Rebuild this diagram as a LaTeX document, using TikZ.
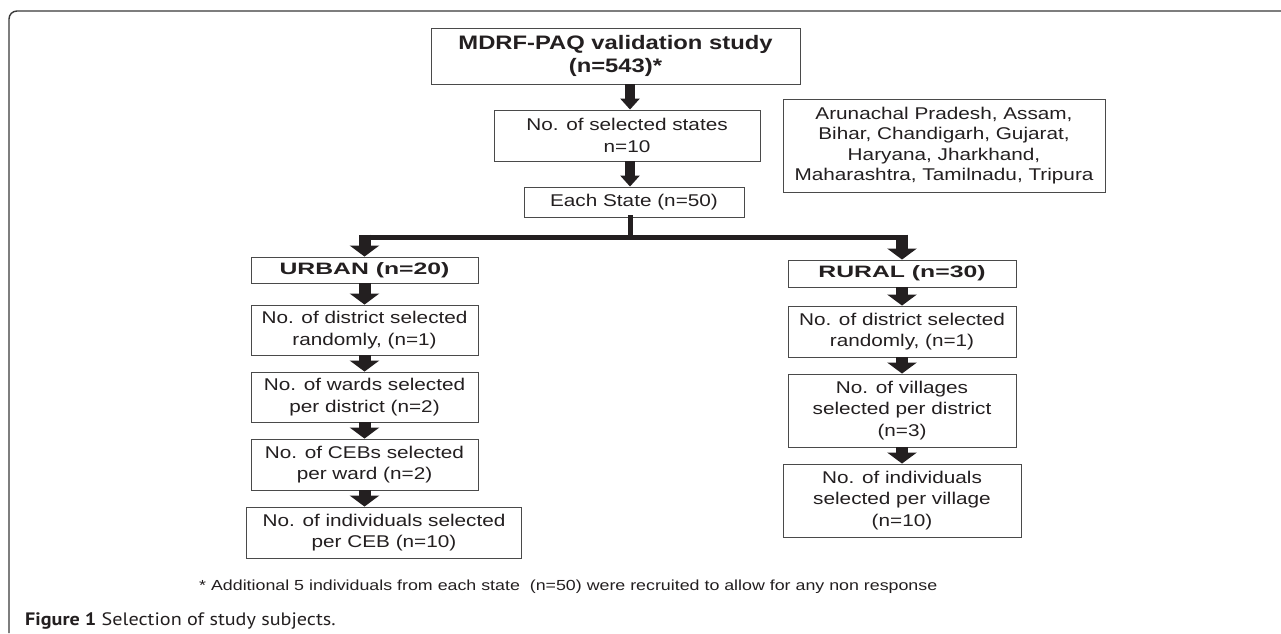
\documentclass[tikz,border=0pt]{standalone}
\usepackage{fontspec}
\setmainfont{Liberation Sans}[FakeStretch=1.22]
\newfontfamily\headfont{Liberation Sans}[FakeStretch=1.5]
\newfontfamily\capfont{PT Sans}[FakeStretch=1.12]
\usetikzlibrary{arrows.meta}
\definecolor{ink}{HTML}{231F20}
\definecolor{boxline}{HTML}{4A4A4A}
\definecolor{framecol}{HTML}{3A3A3A}
\tikzset{
  box/.style={draw=boxline, line width=0.9pt, text=ink, align=center, inner sep=0pt,
    font=\fontsize{17}{21.5}\selectfont},
  titlebox/.style={box, font=\bfseries\fontsize{19.5}{22.7}\selectfont},
  headbox/.style={box, font=\headfont\bfseries\fontsize{16.5}{20}\selectfont},
  toparrow/.style={draw=ink, line width=10pt, -{Triangle[width=19pt,length=11pt]}},
  colarrow/.style={draw=ink, line width=12pt, -{Triangle[width=29pt,length=11pt]}},
  conn/.style={draw=ink, line width=5pt, line cap=rect},
}
\begin{document}
\begin{tikzpicture}[x=1pt,y=-1pt]
\useasboundingbox (0,0) rectangle (1281,633);
\fill[white] (0,0) rectangle (1281,633);
% frame
\draw[framecol, line width=1.4pt, rounded corners=8pt] (9,633) -- (9,11) -- (1281,11);

% top chain
\node[titlebox, minimum width=369pt, minimum height=56pt] (top) at (615.5,56)
  {MDRF-PAQ validation study\\(n=543)*};
\node[box, minimum width=266pt, minimum height=51pt] (sel) at (627,135.5)
  {No. of selected states\\n=10};
\node[box, minimum width=220pt, minimum height=30pt] (each) at (634,202)
  {Each State (n=50)};
\node[box, minimum width=322pt, minimum height=93pt, font=\fontsize{17}{20.5}\selectfont] (states) at (944,145.5)
  {Arunachal Pradesh, Assam,\\Bihar, Chandigarh, Gujarat,\\Haryana, Jharkhand,\\Maharashtra, Tamilnadu, Tripura};

\draw[toparrow] (top.south -| sel.north) ++(3,0) coordinate (a1) -- (a1 |- sel.north);
\draw[toparrow] (sel.south) ++(3,0) coordinate (a2) -- (a2 |- each.north);

% urban column
\node[headbox, minimum width=227pt, minimum height=26pt] (urban) at (364.5,270) {URBAN (n=20)};
\node[box, minimum width=227pt, minimum height=50pt] (udist) at (364.5,330)
  {No. of district selected\\randomly, (n=1)};
\node[box, minimum width=227pt, minimum height=50pt] (uward) at (364.5,397)
  {No. of wards selected\\per district (n=2)};
\node[box, minimum width=227pt, minimum height=51pt] (uceb) at (364.5,464.5)
  {No. of CEBs selected\\per ward (n=2)};
\node[box, minimum width=275pt, minimum height=51pt] (uind) at (384,532.5)
  {No. of individuals selected\\per CEB (n=10)};

% rural column
\node[headbox, minimum width=228pt, minimum height=27pt] (rural) at (902,273.5) {RURAL (n=30)};
\node[box, minimum width=228pt, minimum height=51pt] (rdist) at (902,331.5)
  {No. of district selected\\randomly, (n=1)};
\node[box, minimum width=228pt, minimum height=73pt] (rvill) at (902,410.5)
  {No. of villages\\selected per district\\(n=3)};
\node[box, minimum width=238pt, minimum height=73pt] (rind) at (902,500.5)
  {No. of individuals\\selected per village\\(n=10)};

% branching connector
\coordinate (j) at (630,237);
\draw[conn] (each.south -| j) -- (j);
\draw[conn] (urban.north |- j) -- (rural.north |- j);
\draw[colarrow] ([yshift=2.5pt]urban.north |- j) -- (urban.north);
\draw[colarrow] ([yshift=2.5pt]rural.north |- j) -- (rural.north);

% column arrows
\draw[colarrow] (urban.south) -- (udist.north);
\draw[colarrow] (udist.south) -- (uward.north);
\draw[colarrow] (uward.south) -- (uceb.north);
\draw[colarrow] (uceb.south) -- (uceb.south |- uind.north);
\draw[colarrow] (rural.south) -- (rdist.north);
\draw[colarrow] (rdist.south) -- (rvill.north);
\draw[colarrow] (rvill.south) -- (rind.north);

% footnote and caption
\node[text=ink, font=\fontsize{14.6}{17}\selectfont, inner sep=0pt, anchor=base west] (note) at (199,590)
  {* Additional 5 individuals from each state~ (n=50) were recruited to allow for any non response};
\node[text=ink, anchor=base west, inner sep=0pt, font=\capfont\fontsize{18}{20}\selectfont] (cap) at (25,625)
  {\textbf{Figure 1} Selection of study subjects.};
\end{tikzpicture}
\end{document}
